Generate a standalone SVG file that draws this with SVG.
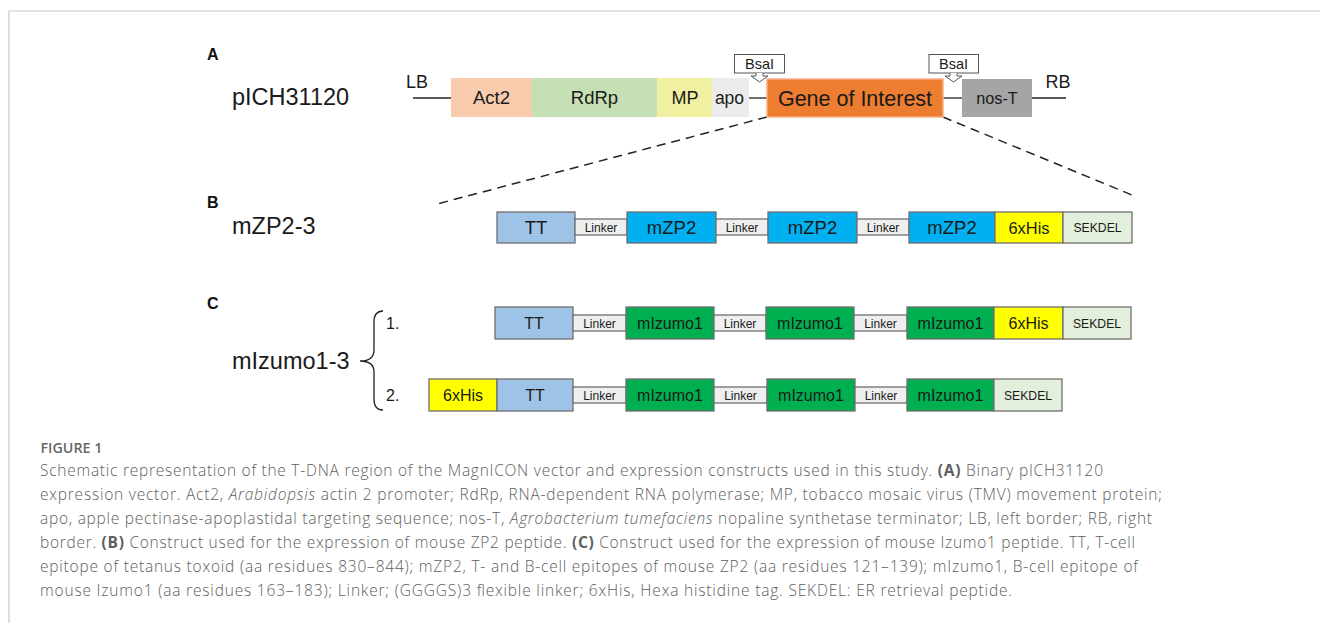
<svg xmlns="http://www.w3.org/2000/svg" width="1320" height="623" viewBox="0 0 1320 623">
<defs>
<style>
.t{font-family:"Liberation Sans",Arial,sans-serif;fill:#1a1a1a;text-anchor:middle}
.lbl{font-family:"Liberation Sans",Arial,sans-serif;fill:#1a1a1a;font-size:23.5px}
.hd{font-family:"Liberation Sans",Arial,sans-serif;fill:#111;font-size:16px;font-weight:bold}
.bx{stroke:#6f6f6f;stroke-width:1.3}
.tt{fill:#9dc3e6}
.zp{fill:#00b0f0}
.iz{fill:#00b050}
.his{fill:#ffff00}
.sek{fill:#e2efda}
.lk{fill:#efefef}
.ln{stroke:#222;stroke-width:1.3;fill:none}
.dash{stroke:#222;stroke-width:1.5;stroke-dasharray:9 6;fill:none}
.cap{font-family:"Open Sans","Liberation Sans",sans-serif;font-size:15.5px;font-weight:300;fill:#5e5e5e}
.s18{font-size:18.5px}
.s16{font-size:16px}
.s12{font-size:12.2px}
.s11{font-size:12px}
</style>
</defs>
<rect width="1320" height="623" fill="#fff"/>
<path d="M9,623 V11 H1320" fill="none" stroke="#c8c8c8" stroke-width="1.2"/>

<g id="labels">
<text class="hd" x="207" y="60">A</text>
<text class="hd" x="207" y="208">B</text>
<text class="hd" x="207" y="309">C</text>
<text class="lbl" x="232" y="105">pICH31120</text>
<text class="lbl" x="232" y="234">mZP2-3</text>
<text class="lbl" x="232" y="369">mIzumo1-3</text>
<text class="t" x="417" y="88" style="font-size:18px">LB</text>
<text class="t" x="1058" y="88" style="font-size:18px">RB</text>
<text class="t" x="386" y="329" style="font-size:16px;text-anchor:start">1.</text>
<text class="t" x="386" y="401" style="font-size:16px;text-anchor:start">2.</text>
</g>

<g id="connectors">
<line class="ln" x1="413" y1="98" x2="451" y2="98"/>
<line class="ln" x1="749" y1="98" x2="767" y2="98"/>
<line class="ln" x1="943" y1="98" x2="962" y2="98"/>
<line class="ln" x1="1032" y1="98" x2="1066" y2="98"/>
<line class="dash" x1="767" y1="117" x2="437" y2="204"/>
<line class="dash" x1="943" y1="117" x2="1132" y2="195"/>
<path class="ln" d="M383,311 Q374,311 374,322 L374,350 Q374,361 360,361 Q374,361 374,372 L374,399 Q374,410 383,410"/>
</g>

<g id="vectorA">
<g id="act2"><rect x="451" y="78" width="81" height="39" fill="#f8cbad"/><text class="t s18" x="491.5" y="104">Act2</text></g>
<g id="rdrp"><rect x="532" y="78" width="125" height="39" fill="#c5e0b4"/><text class="t s18" x="594.5" y="104">RdRp</text></g>
<g id="mp"><rect x="657" y="78" width="55" height="39" fill="#f1f0a1"/><text class="t" x="685" y="104" style="font-size:18px">MP</text></g>
<g id="apo"><rect x="712" y="78" width="37" height="39" fill="#ececec"/><text class="t" x="729.5" y="104" style="font-size:17.5px">apo</text></g>
<g id="goi"><rect x="767" y="79" width="176" height="38" fill="#ed7d31" stroke="#f4b183" stroke-width="1.5"/><text class="t" x="855" y="105.5" style="font-size:21.5px">Gene of Interest</text></g>
<g id="nosT"><rect x="962" y="79" width="70" height="38" fill="#a5a5a5"/><text class="t" x="997" y="104" style="font-size:16.3px">nos-T</text></g>
<g id="bsai1"><rect x="734.5" y="54.5" width="50" height="18.5" fill="#fff" stroke="#555" stroke-width="1"/><text class="t" x="759.5" y="69" style="font-size:14.5px">BsaI</text><path d="M756,73 V76 H751 L759.5,82 L768,76 H763 V73" fill="#fff" stroke="#555" stroke-width="1"/></g>
<g id="bsai2"><rect x="929" y="54.5" width="49.5" height="18.5" fill="#fff" stroke="#555" stroke-width="1"/><text class="t" x="953.5" y="69" style="font-size:14.5px">BsaI</text><path d="M950,73 V76 H945 L953.5,82 L962,76 H957 V73" fill="#fff" stroke="#555" stroke-width="1"/></g>
</g>

<g id="constructB">
<g id="b-tt"><rect class="bx tt" x="497" y="212" width="78" height="31"/><text class="t s18" x="536" y="234">TT</text></g>
<g id="b-lk1"><rect class="bx lk" x="575" y="219" width="52" height="16"/><text class="t s11" x="601" y="231.5">Linker</text></g>
<g id="b-zp1"><rect class="bx zp" x="627" y="212" width="89" height="31"/><text class="t s18" x="671.5" y="234">mZP2</text></g>
<g id="b-lk2"><rect class="bx lk" x="716" y="219" width="52" height="16"/><text class="t s11" x="742" y="231.5">Linker</text></g>
<g id="b-zp2"><rect class="bx zp" x="768" y="212" width="89" height="31"/><text class="t s18" x="812.5" y="234">mZP2</text></g>
<g id="b-lk3"><rect class="bx lk" x="857" y="219" width="52" height="16"/><text class="t s11" x="883" y="231.5">Linker</text></g>
<g id="b-zp3"><rect class="bx zp" x="909" y="212" width="86" height="31"/><text class="t s18" x="952" y="234">mZP2</text></g>
<g id="b-his"><rect class="bx his" x="995" y="212" width="68" height="31"/><text class="t" x="1029" y="233.5" style="font-size:16.4px">6xHis</text></g>
<g id="b-sek"><rect class="bx sek" x="1063" y="212" width="69" height="31"/><text class="t s12" x="1097.5" y="232">SEKDEL</text></g>
</g>

<g id="constructC1">
<g id="c1-tt"><rect class="bx tt" x="495" y="307" width="78" height="32"/><text class="t s16" x="534" y="328.7">TT</text></g>
<g id="c1-lk1"><rect class="bx lk" x="573" y="315" width="53" height="16"/><text class="t s11" x="599.5" y="327.5">Linker</text></g>
<g id="c1-iz1"><rect class="bx iz" x="626" y="307" width="88" height="32"/><text class="t s16" x="670" y="328.7">mIzumo1</text></g>
<g id="c1-lk2"><rect class="bx lk" x="714" y="315" width="52" height="16"/><text class="t s11" x="740" y="327.5">Linker</text></g>
<g id="c1-iz2"><rect class="bx iz" x="766" y="307" width="88" height="32"/><text class="t s16" x="810" y="328.7">mIzumo1</text></g>
<g id="c1-lk3"><rect class="bx lk" x="854" y="315" width="53" height="16"/><text class="t s11" x="880.5" y="327.5">Linker</text></g>
<g id="c1-iz3"><rect class="bx iz" x="907" y="307" width="87" height="32"/><text class="t s16" x="950.5" y="328.7">mIzumo1</text></g>
<g id="c1-his"><rect class="bx his" x="994" y="307" width="69" height="32"/><text class="t s16" x="1028.5" y="328.7">6xHis</text></g>
<g id="c1-sek"><rect class="bx sek" x="1063" y="307" width="68" height="32"/><text class="t s12" x="1097" y="327.5">SEKDEL</text></g>
</g>

<g id="constructC2">
<g id="c2-his"><rect class="bx his" x="429" y="379" width="68" height="32"/><text class="t s16" x="463" y="400.7">6xHis</text></g>
<g id="c2-tt"><rect class="bx tt" x="497" y="379" width="76" height="32"/><text class="t s16" x="535" y="400.7">TT</text></g>
<g id="c2-lk1"><rect class="bx lk" x="573" y="387" width="53" height="16"/><text class="t s11" x="599.5" y="399.5">Linker</text></g>
<g id="c2-iz1"><rect class="bx iz" x="626" y="379" width="88" height="32"/><text class="t s16" x="670" y="400.7">mIzumo1</text></g>
<g id="c2-lk2"><rect class="bx lk" x="714" y="387" width="53" height="16"/><text class="t s11" x="740.5" y="399.5">Linker</text></g>
<g id="c2-iz2"><rect class="bx iz" x="767" y="379" width="88" height="32"/><text class="t s16" x="811" y="400.7">mIzumo1</text></g>
<g id="c2-lk3"><rect class="bx lk" x="855" y="387" width="52" height="16"/><text class="t s11" x="881" y="399.5">Linker</text></g>
<g id="c2-iz3"><rect class="bx iz" x="907" y="379" width="87" height="32"/><text class="t s16" x="950.5" y="400.7">mIzumo1</text></g>
<g id="c2-sek"><rect class="bx sek" x="994" y="379" width="68" height="32"/><text class="t s12" x="1028" y="399.5">SEKDEL</text></g>
</g>

<g id="caption">
<text x="40.5" y="452.5" style="font-family:'Open Sans','Liberation Sans',sans-serif;font-size:13.5px;font-weight:600;fill:#666" textLength="62" lengthAdjust="spacingAndGlyphs">FIGURE 1</text>
<text class="cap" x="40" y="476" textLength="1063" lengthAdjust="spacing">Schematic representation of the T-DNA region of the MagnICON vector and expression constructs used in this study. <tspan font-weight="bold">(A)</tspan> Binary pICH31120</text>
<text class="cap" x="40" y="500" textLength="1122" lengthAdjust="spacing">expression vector. Act2, <tspan font-style="italic">Arabidopsis</tspan> actin 2 promoter; RdRp, RNA-dependent RNA polymerase; MP, tobacco mosaic virus (TMV) movement protein;</text>
<text class="cap" x="40" y="524" textLength="1112" lengthAdjust="spacing">apo, apple pectinase-apoplastidal targeting sequence; nos-T, <tspan font-style="italic">Agrobacterium tumefaciens</tspan> nopaline synthetase terminator; LB, left border; RB, right</text>
<text class="cap" x="40" y="548" textLength="1095" lengthAdjust="spacing">border. <tspan font-weight="bold">(B)</tspan> Construct used for the expression of mouse ZP2 peptide. <tspan font-weight="bold">(C)</tspan> Construct used for the expression of mouse Izumo1 peptide. TT, T-cell</text>
<text class="cap" x="40" y="572" textLength="1098" lengthAdjust="spacing">epitope of tetanus toxoid (aa residues 830–844); mZP2, T- and B-cell epitopes of mouse ZP2 (aa residues 121–139); mIzumo1, B-cell epitope of</text>
<text class="cap" x="40" y="596" textLength="972" lengthAdjust="spacing">mouse Izumo1 (aa residues 163–183); Linker; (GGGGS)3 flexible linker; 6xHis, Hexa histidine tag. SEKDEL: ER retrieval peptide.</text>
</g>
</svg>
